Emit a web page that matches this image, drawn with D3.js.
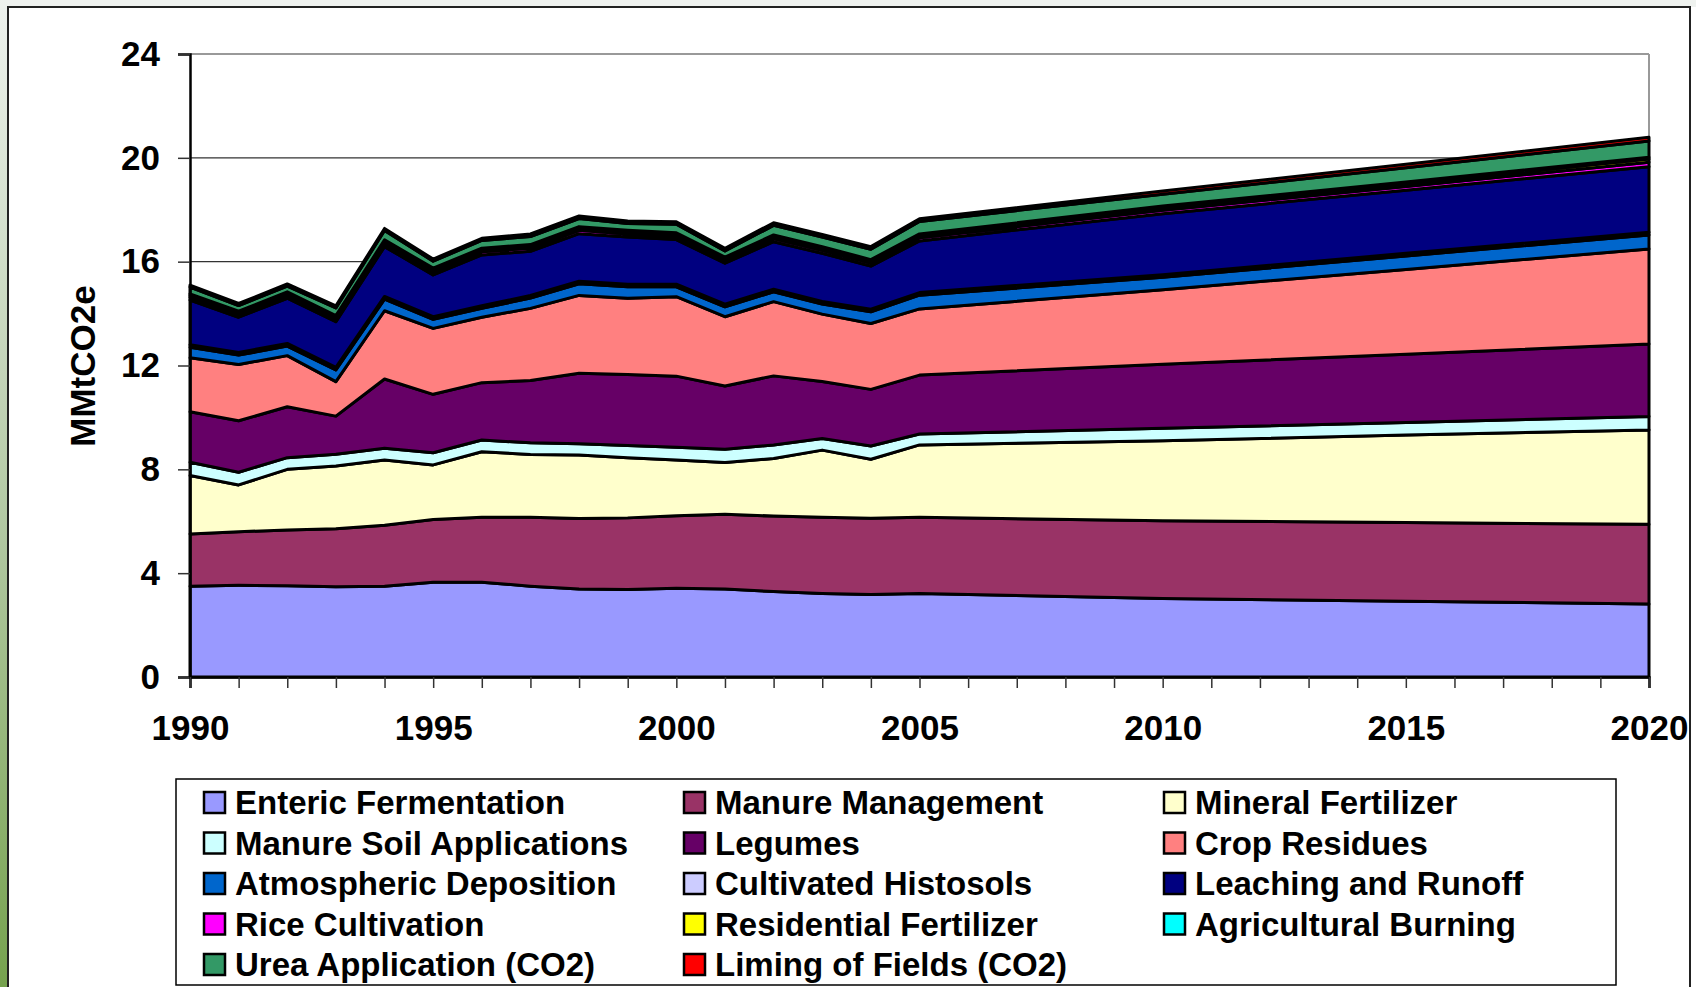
<!DOCTYPE html>
<html>
<head>
<meta charset="utf-8">
<script src="https://cdn.jsdelivr.net/npm/d3@7"></script>
<style>
  body { margin: 0; background: #fff; }
  svg text { font-family: "Liberation Sans", Arial, sans-serif; font-weight: bold; fill: #000; }
</style>
</head>
<body>
<script>
// years; after 2005 the chart runs straight between 5-year points
const years = [1990,1991,1992,1993,1994,1995,1996,1997,1998,1999,2000,2001,2002,2003,2004,2005,2010,2015,2020];

const enteric       = [3.5,3.53,3.52,3.48,3.5,3.65,3.65,3.5,3.39,3.37,3.42,3.39,3.29,3.22,3.18,3.22,3.02,2.92,2.81];
const manureMgmt    = [2.01,2.07,2.14,2.23,2.35,2.42,2.5,2.65,2.72,2.76,2.79,2.88,2.91,2.93,2.94,2.93,3.0,3.03,3.07];
const mineralFert   = [2.25,1.8,2.34,2.42,2.51,2.1,2.53,2.42,2.44,2.32,2.15,1.99,2.22,2.59,2.27,2.79,3.08,3.37,3.64];
const manureSoil    = [0.51,0.49,0.45,0.45,0.45,0.47,0.45,0.45,0.44,0.47,0.49,0.51,0.52,0.45,0.51,0.42,0.48,0.48,0.52];
const legumes       = [1.95,1.98,1.96,1.47,2.67,2.25,2.21,2.4,2.71,2.73,2.74,2.44,2.66,2.19,2.18,2.27,2.47,2.63,2.79];
const cropResidues  = [2.08,2.17,1.97,1.33,2.63,2.54,2.52,2.78,3.0,2.94,3.06,2.67,2.86,2.6,2.54,2.55,2.87,3.27,3.66];
const atmDeposition = [0.4,0.36,0.37,0.45,0.45,0.35,0.34,0.4,0.45,0.44,0.38,0.38,0.38,0.39,0.45,0.53,0.48,0.52,0.54];
const histosols     = [0.1,0.1,0.1,0.1,0.1,0.1,0.1,0.1,0.1,0.1,0.1,0.1,0.1,0.1,0.1,0.1,0.1,0.1,0.1];
const leaching      = [1.72,1.36,1.74,1.76,1.92,1.61,1.96,1.7,1.83,1.82,1.72,1.58,1.83,1.85,1.66,1.99,2.35,2.43,2.53];
const rice          = [0.11,0.11,0.12,0.11,0.12,0.12,0.12,0.12,0.13,0.12,0.12,0.11,0.12,0.12,0.12,0.12,0.13,0.15,0.17];
const residential   = [0.07,0.07,0.07,0.07,0.08,0.08,0.08,0.08,0.08,0.08,0.08,0.08,0.08,0.08,0.08,0.09,0.1,0.11,0.12];
const burning       = [0.06,0.05,0.06,0.05,0.06,0.06,0.06,0.06,0.06,0.06,0.06,0.05,0.06,0.06,0.05,0.06,0.06,0.06,0.07];
const urea          = [0.26,0.22,0.22,0.3,0.36,0.27,0.3,0.31,0.31,0.26,0.33,0.23,0.37,0.37,0.4,0.48,0.46,0.55,0.63];
const liming        = [0.08,0.08,0.08,0.08,0.08,0.08,0.08,0.1,0.1,0.1,0.1,0.1,0.1,0.1,0.1,0.1,0.12,0.13,0.14];

const seriesNames = ["Enteric Fermentation","Manure Management","Mineral Fertilizer","Manure Soil Applications",
  "Legumes","Crop Residues","Atmospheric Deposition","Cultivated Histosols","Leaching and Runoff",
  "Rice Cultivation","Residential Fertilizer","Agricultural Burning","Urea Application (CO2)","Liming of Fields (CO2)"];
const seriesValues = [enteric,manureMgmt,mineralFert,manureSoil,legumes,cropResidues,atmDeposition,
  histosols,leaching,rice,residential,burning,urea,liming];
const seriesColors = ["#9999FF","#993366","#FFFFCC","#CCFFFF","#660066","#FF8080","#0066CC",
  "#CCCCFF","#000080","#FF00FF","#FFFF00","#00FFFF","#339966","#FF0000"];

const yTicks = [0,4,8,12,16,20,24];
const xLabels = [1990,1995,2000,2005,2010,2015,2020];

const W = 1696, H = 987;
const plotLeft = 190, plotRight = 1649, plotTop = 54, plotBottom = 677;

const svg = d3.select("body").append("svg").attr("width", W).attr("height", H);

// page background: light top strip and green gradient on the left
const grad = svg.append("defs").append("linearGradient").attr("id","side")
  .attr("x1",0).attr("y1",0).attr("x2",0).attr("y2",1);
grad.append("stop").attr("offset","0%").attr("stop-color","#eef2ee");
grad.append("stop").attr("offset","55%").attr("stop-color","#b0c7a0");
grad.append("stop").attr("offset","100%").attr("stop-color","#76a24e");
svg.append("rect").attr("width",W).attr("height",7).attr("fill","#eff2ef");
svg.append("rect").attr("width",8).attr("height",H).attr("fill","url(#side)");
svg.append("rect").attr("x",8).attr("y",7).attr("width",1682).attr("height",H)
  .attr("fill","#fff").attr("stroke","#222").attr("stroke-width",2);

const x = d3.scaleLinear().domain([1990,2020]).range([plotLeft,plotRight]);
const y = d3.scaleLinear().domain([0,24]).range([plotBottom,plotTop]);

// gridlines
svg.append("g").selectAll("line").data(yTicks.filter(d => d > 0 && d < 24)).join("line")
  .attr("x1",plotLeft).attr("x2",plotRight).attr("y1",d=>y(d)).attr("y2",d=>y(d))
  .attr("stroke","#333").attr("stroke-width",1.2);
svg.append("line").attr("x1",plotLeft).attr("x2",plotRight).attr("y1",y(24)).attr("y2",y(24))
  .attr("stroke","#999").attr("stroke-width",2);
svg.append("line").attr("x1",plotRight).attr("x2",plotRight).attr("y1",y(24)).attr("y2",y(0))
  .attr("stroke","#999").attr("stroke-width",2);

// stacked areas
const rows = years.map((yr,i) => {
  const r = {year: yr};
  seriesNames.forEach((n,k) => r[n] = seriesValues[k][i]);
  return r;
});
const stack = d3.stack().keys(seriesNames)(rows);
const area = d3.area()
  .x(d => x(d.data.year))
  .y0(d => y(d[0]))
  .y1(d => y(d[1]));

svg.append("g").selectAll("path").data(stack).join("path")
  .attr("d", area)
  .attr("fill", (d,i) => seriesColors[i])
  .attr("stroke", "#000")
  .attr("stroke-width", 3)
  .attr("stroke-linejoin", "round");

// axes
const yAxis = svg.append("g").attr("transform",`translate(${plotLeft},0)`)
  .call(d3.axisLeft(y).tickValues(yTicks).tickSize(12).tickPadding(18));
yAxis.select(".domain").attr("stroke","#000").attr("stroke-width",2.5);
yAxis.selectAll(".tick line").attr("stroke","#333").attr("stroke-width",1.5);
yAxis.selectAll(".tick text").attr("font-size",35).attr("font-family",null);

const xAxis = svg.append("g").attr("transform",`translate(0,${plotBottom})`)
  .call(d3.axisBottom(x).tickValues(d3.range(1990,2021)).tickSize(11)
    .tickFormat(d => xLabels.includes(d) ? d : "").tickPadding(27));
xAxis.select(".domain").attr("stroke","#000").attr("stroke-width",2.5);
xAxis.selectAll(".tick line").attr("stroke","#333").attr("stroke-width",1.5);
xAxis.selectAll(".tick text").attr("font-size",35).attr("font-family",null);

svg.append("text").attr("transform","translate(95,366) rotate(-90)")
  .attr("text-anchor","middle").attr("font-size",35).text("MMtCO2e");

// legend
svg.append("rect").attr("x",176).attr("y",779).attr("width",1440).attr("height",206)
  .attr("fill","#fff").attr("stroke","#000").attr("stroke-width",1.5);
const colX = [204, 684, 1164];
const legend = svg.append("g").selectAll("g").data(seriesNames).join("g")
  .attr("transform",(d,i) => `translate(${colX[i%3]},${802 + Math.floor(i/3)*40.5})`);
legend.append("rect").attr("x",0).attr("y",-10).attr("width",21).attr("height",21)
  .attr("fill",(d,i)=>seriesColors[i]).attr("stroke","#000").attr("stroke-width",2.5);
legend.append("text").attr("x",31).attr("y",12).attr("font-size",33).text(d=>d);
</script>
</body>
</html>
